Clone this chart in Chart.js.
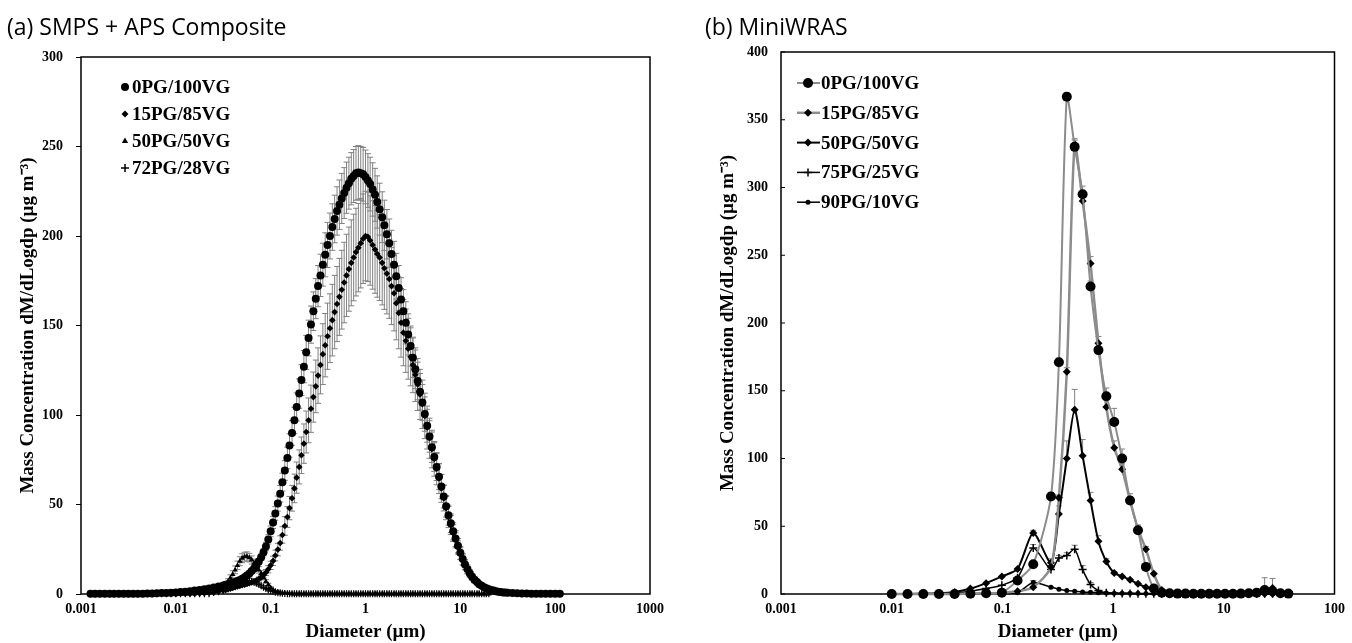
<!DOCTYPE html>
<html>
<head>
<meta charset="utf-8">
<script src="https://cdn.jsdelivr.net/npm/chart.js@4.4.1/dist/chart.umd.min.js"></script>
<style>
  html, body { margin: 0; padding: 0; background: #fff; }
  #page { position: relative; width: 1352px; height: 643px; overflow: hidden; }
  .box { position: absolute; top: 0; height: 643px; }
  .ttl { position: absolute; top: 10px; font-family: "Open Sans", sans-serif; font-size: 23px; color: #000; white-space: nowrap; }
</style>
</head>
<body>
<div id="page">
  <div class="box" style="left:0;width:680px"><canvas id="plotA" width="680" height="643"></canvas></div>
  <div class="box" style="left:680px;width:672px"><canvas id="plotB" width="672" height="643"></canvas></div>
  <div class="ttl" style="left:7px">(a) SMPS + APS Composite</div>
  <div class="ttl" style="left:705px">(b) MiniWRAS</div>
</div>
<script>
const serif = "'Liberation Serif', 'Times New Roman', serif";

// ---- (a) SMPS + APS composite : diameters (µm) and dM/dLogdp (µg m-3)
const diamA = [
  0.00126, 0.00141, 0.00158, 0.00178, 0.00200, 0.00224, 0.00251, 0.00282, 0.00316, 0.00355,
  0.00398, 0.00447, 0.00501, 0.00562, 0.00631, 0.00708, 0.00794, 0.00891, 0.0100, 0.0112,
  0.0126, 0.0141, 0.0158, 0.0178, 0.0200, 0.0224, 0.0251, 0.0282,
  0.0316, 0.0335, 0.0355, 0.0376, 0.0398, 0.0422, 0.0447, 0.0473, 0.0501, 0.0531,
  0.0562, 0.0596, 0.0631, 0.0668, 0.0708, 0.0750, 0.0794, 0.0841, 0.0891, 0.0944,
  0.100, 0.106, 0.112, 0.119, 0.126, 0.133, 0.141, 0.150, 0.158, 0.168,
  0.178, 0.188, 0.200, 0.211, 0.224, 0.237, 0.251, 0.266, 0.282, 0.299,
  0.316, 0.335, 0.355, 0.376, 0.398, 0.422, 0.447, 0.473, 0.501, 0.531,
  0.562, 0.596, 0.631, 0.668, 0.708, 0.750, 0.794, 0.841, 0.891, 0.944,
  1.00, 1.06, 1.12, 1.19, 1.26, 1.33, 1.41, 1.50, 1.58, 1.68,
  1.78, 1.88, 2.00, 2.11, 2.24, 2.37, 2.51, 2.66, 2.82, 2.99,
  3.16, 3.35, 3.55, 3.76, 3.98, 4.22, 4.47, 4.73, 5.01, 5.31,
  5.62, 5.96, 6.31, 6.68, 7.08, 7.50, 7.94, 8.41, 8.91, 9.44,
  10.0, 10.6, 11.2, 11.9, 12.6, 13.3, 14.1, 15.0, 15.8, 16.8,
  17.8, 18.8, 20.0, 21.1, 22.4, 23.7, 25.1, 26.6, 28.2, 29.9,
  31.6, 35.5, 39.8, 44.7, 50.1, 56.2, 63.1, 70.8, 79.4, 89.1, 100, 112];

const pg0A = [
  0.1, 0.1, 0.1, 0.1, 0.1, 0.1, 0.1, 0.1, 0.2, 0.2,
  0.2, 0.2, 0.3, 0.3, 0.4, 0.5, 0.6, 0.7, 0.9, 1.1,
  1.3, 1.6, 1.9, 2.3, 2.7, 3.1, 3.6, 4.2,
  4.8, 5.1, 5.5, 5.9, 6.3, 6.7, 7.2, 7.8, 8.5, 9.3,
  10.3, 11.5, 12.8, 14.3, 16, 18.1, 20.5, 23.3, 26.5, 30.5,
  35, 40, 45, 50.5, 56, 62.5, 69, 76, 83, 90,
  97, 104.5, 112, 119.5, 127, 135, 143, 150.5, 158, 165,
  172, 178, 184, 189.5, 195, 200, 205, 209.5, 214, 217.5,
  221, 224, 227, 229.5, 232, 233.5, 235, 235.5, 235, 234.5,
  233, 231, 229, 226, 223, 219, 215, 210.5, 206, 201,
  196, 190, 184, 177.5, 171, 164.5, 158, 151.5, 145, 138.5,
  132, 125.5, 119, 113, 107, 100.5, 94, 88, 82, 76.5,
  71, 65.5, 60, 54.5, 49, 44, 39.5, 35, 31, 27,
  23, 19.5, 16.5, 13.8, 11.5, 9.6, 8, 6.7, 5.5, 4.6,
  3.8, 3.2, 2.7, 2.3, 1.9, 1.6, 1.3, 1.1, 0.9, 0.8,
  0.7, 0.5, 0.4, 0.3, 0.3, 0.2, 0.2, 0.2, 0.1, 0.1, 0.1, 0.1];
const pg0AErr = [
  0, 0, 0, 0, 0, 0, 0, 0, 0, 0,
  0, 0, 0, 0, 0, 0, 0, 0, 0, 0,
  0, 0, 0, 0, 0, 0, 0, 0,
  0, 0, 0, 0, 0.5, 0.5, 0.6, 0.6, 0.7, 0.8,
  0.9, 1.0, 1.1, 1.2, 1.4, 1.6, 1.8, 2.0, 2.3, 2.6,
  3.0, 3.4, 3.8, 4.2, 4.6, 5.0, 5.5, 6.0, 6.5, 6.9,
  7.3, 7.8, 8.2, 8.6, 9.0, 9.5, 10, 10.4, 10.8, 11.2,
  11.5, 11.8, 12, 12.3, 12.6, 12.8, 13, 13.3, 13.5, 13.8,
  14, 14.2, 14.3, 14.5, 14.6, 14.8, 15, 15, 15, 15,
  15, 15, 15, 14.9, 14.8, 14.6, 14.5, 14.2, 14, 13.8,
  13.5, 13.2, 13, 12.8, 12.5, 12.2, 12, 11.8, 11.5, 11.2,
  11, 10.8, 10.5, 10.2, 10, 9.6, 9.2, 8.8, 8.5, 8,
  7.6, 7.2, 6.8, 6.4, 6, 5.6, 5.2, 4.8, 4.4, 4,
  3.6, 3.2, 2.8, 2.4, 2.1, 1.8, 1.6, 1.3, 1.1, 0.9,
  0.8, 0.7, 0.6, 0, 0, 0, 0, 0, 0, 0,
  0, 0, 0, 0, 0, 0, 0, 0, 0, 0, 0, 0];

const pg15A = [
  0.1, 0.1, 0.1, 0.1, 0.1, 0.1, 0.1, 0.1, 0.1, 0.1,
  0.1, 0.1, 0.1, 0.1, 0.1, 0.1, 0.1, 0.1, 0.1, 0.1,
  0.1, 0.1, 0.2, 0.3, 0.5, 0.7, 1.0, 1.4,
  2.0, 2.3, 2.7, 3.0, 3.4, 3.8, 4.2, 4.5, 4.9, 5.2,
  5.6, 6.0, 6.4, 7.0, 7.6, 8.4, 9.3, 10.5, 12, 13.8,
  16, 18.5, 21.5, 24.8, 28.5, 33, 38, 43, 48, 53.5,
  59, 65, 71, 77.5, 84, 90.5, 97, 103.5, 110, 116,
  122, 128, 134, 139, 144, 148.5, 153, 157.5, 162, 166,
  170, 174, 178, 181.5, 185, 188, 191, 193.5, 196, 198.5,
  200, 199.5, 197.5, 195, 192.5, 190, 188, 185, 182, 179,
  176, 172, 168, 162.5, 157, 151.5, 146, 141.5, 137, 132.5,
  128, 122.5, 117, 111.5, 106, 99.5, 93, 87, 81, 75.5,
  70, 64.5, 59, 53.5, 48, 43, 38.5, 34, 30, 26,
  22.5, 19, 16, 13.3, 11, 9.2, 7.5, 6.3, 5.2, 4.4,
  3.6, 3.0, 2.5, 2.1, 1.8, 1.5, 1.2, 1.0, 0.8, 0.7,
  0.6, 0.4, 0.3, 0.3, 0.2, 0.2, 0.2, 0.1, 0.1, 0.1, 0.1, 0.1];
const pg15AErr = [
  0, 0, 0, 0, 0, 0, 0, 0, 0, 0,
  0, 0, 0, 0, 0, 0, 0, 0, 0, 0,
  0, 0, 0, 0, 0, 0, 0, 0,
  0, 0, 0, 0, 0.3, 0.3, 0.4, 0.4, 0.5, 0.5,
  0.6, 0.7, 0.8, 0.9, 1.0, 1.1, 1.3, 1.5, 1.7, 2.0,
  2.3, 2.6, 3.0, 3.5, 4.0, 4.6, 5.2, 5.8, 6.5, 7.2,
  8, 8.7, 9.5, 10.2, 11, 11.7, 12.5, 13.2, 14, 14.7,
  15.5, 16.2, 17, 17.7, 18.5, 19.2, 20, 20.5, 21, 21.5,
  22, 22.5, 23, 23.5, 24, 24.2, 24.5, 24.7, 25, 25,
  25, 25, 25, 24.7, 24.5, 24.2, 24, 23.5, 23, 22.5,
  22, 21.5, 21, 20.5, 20, 19.2, 18.5, 17.7, 17, 16.2,
  15.5, 15, 14.5, 14, 13.5, 12.7, 12, 11.2, 10.5, 9.7,
  9, 8.4, 7.8, 7.1, 6.5, 5.9, 5.3, 4.7, 4.2, 3.7,
  3.3, 2.9, 2.5, 2.1, 1.8, 1.5, 1.3, 1.1, 0.9, 0.7,
  0.6, 0.5, 0.4, 0, 0, 0, 0, 0, 0, 0,
  0, 0, 0, 0, 0, 0, 0, 0, 0, 0, 0, 0];

const pg50A = [
  0.1, 0.1, 0.1, 0.1, 0.1, 0.1, 0.1, 0.1, 0.1, 0.1,
  0.1, 0.1, 0.1, 0.1, 0.1, 0.1, 0.1, 0.1, 0.1, 0.1,
  0.1, 0.1, 0.2, 0.3, 0.5, 0.9, 1.5, 2.6,
  4.3, 5.6, 7, 9, 11, 13.5, 16, 18.3, 20, 20.8,
  21, 20.3, 19, 17.3, 15.5, 13.5, 11.5, 9.2, 7, 5.2,
  3.5, 2.4, 1.6, 1.1, 0.8, 0.6, 0.4, 0.3, 0.3, 0.1,
  0.1, 0.1, 0.1, 0.1, 0.1, 0.1, 0.1, 0.1, 0.1, 0.1,
  0.1, 0.1, 0.1, 0.1, 0.1, 0.1, 0.1, 0.1, 0.1, 0.1,
  0.1, 0.1, 0.1, 0.1, 0.1, 0.1, 0.1, 0.1, 0.1, 0.1,
  0.1, 0.1, 0.1, 0.1, 0.1, 0.1, 0.1, 0.1, 0.1, 0.1,
  0.1, 0.1, 0.1, 0.1, 0.1, 0.1, 0.1, 0.1, 0.1, 0.1,
  0.1, 0.1, 0.1, 0.1, 0.1, 0.1, 0.1, 0.1, 0.1, 0.1,
  0.1, 0.1, 0.1, 0.1, 0.1, 0.1, 0.1, 0.1, 0.1, 0.1,
  0.1, 0.1, 0.1, 0.1, 0.1, 0.1, 0.1, 0.1, 0.1, 0.1,
  0.1, 0.1, 0.1, null, null, null, null, null, null, null,
  null, null, null, null, null, null, null, null, null, null, null, null];
const pg50AErr = [
  0, 0, 0, 0, 0, 0, 0, 0, 0, 0,
  0, 0, 0, 0, 0, 0, 0, 0, 0, 0,
  0, 0, 0, 0, 0, 0, 0, 0,
  0.8, 1.0, 1.5, 1.7, 2.0, 2.2, 2.4, 2.5, 2.5, 2.5,
  2.5, 2.4, 2.3, 2.2, 2.0, 1.8, 1.5, 1.2, 1.0, 0.8,
  0.5, 0, 0, 0, 0, 0, 0, 0, 0, 0,
  0, 0, 0, 0, 0, 0, 0, 0, 0, 0,
  0, 0, 0, 0, 0, 0, 0, 0, 0, 0,
  0, 0, 0, 0, 0, 0, 0, 0, 0, 0,
  0, 0, 0, 0, 0, 0, 0, 0, 0, 0,
  0, 0, 0, 0, 0, 0, 0, 0, 0, 0,
  0, 0, 0, 0, 0, 0, 0, 0, 0, 0,
  0, 0, 0, 0, 0, 0, 0, 0, 0, 0,
  0, 0, 0, 0, 0, 0, 0, 0, 0, 0,
  0, 0, 0, 0, 0, 0, 0, 0, 0, 0,
  0, 0, 0, 0, 0, 0, 0, 0, 0, 0, 0, 0];

const pg72A = [
  0.1, 0.1, 0.1, 0.1, 0.1, 0.1, 0.1, 0.1, 0.1, 0.1,
  0.1, 0.1, 0.1, 0.1, 0.1, 0.1, 0.1, 0.1, 0.1, 0.1,
  0.1, 0.1, 0.1, 0.1, 0.1, 0.1, 0.8, 1.3,
  2.0, 2.5, 3.0, 3.6, 4.2, 4.9, 5.5, 6.1, 6.6, 7.0,
  7.3, 7.3, 7.1, 6.7, 6.1, 5.4, 4.6, 3.8, 3.1, 2.4,
  1.8, 1.4, 1.0, 0.7, 0.5, 0.4, 0.3, 0.2, 0.2, 0.1,
  0.1, 0.1, 0.1, 0.1, 0.1, 0.1, 0.1, 0.1, 0.1, 0.1,
  0.1, 0.1, 0.1, 0.1, 0.1, 0.1, 0.1, 0.1, 0.1, 0.1,
  0.1, 0.1, 0.1, 0.1, 0.1, 0.1, 0.1, 0.1, 0.1, 0.1,
  0.1, 0.1, 0.1, 0.1, 0.1, 0.1, 0.1, 0.1, 0.1, 0.1,
  0.1, 0.1, 0.1, 0.1, 0.1, 0.1, 0.1, 0.1, 0.1, 0.1,
  0.1, 0.1, 0.1, 0.1, 0.1, 0.1, 0.1, 0.1, 0.1, 0.1,
  0.1, 0.1, 0.1, 0.1, 0.1, 0.1, 0.1, 0.1, 0.1, 0.1,
  0.1, 0.1, 0.1, 0.1, 0.1, 0.1, 0.1, 0.1, 0.1, 0.1,
  0.1, 0.1, 0.1, null, null, null, null, null, null, null,
  null, null, null, null, null, null, null, null, null, null, null, null];
const pg72AErr = [
  0, 0, 0, 0, 0, 0, 0, 0, 0, 0,
  0, 0, 0, 0, 0, 0, 0, 0, 0, 0,
  0, 0, 0, 0, 0, 0, 0, 0,
  0.4, 0.5, 0.6, 0.8, 1.0, 1.1, 1.2, 1.3, 1.4, 1.5,
  1.5, 1.5, 1.5, 1.4, 1.3, 1.2, 1.0, 0.8, 0.6, 0.5,
  0.4, 0, 0, 0, 0, 0, 0, 0, 0, 0,
  0, 0, 0, 0, 0, 0, 0, 0, 0, 0,
  0, 0, 0, 0, 0, 0, 0, 0, 0, 0,
  0, 0, 0, 0, 0, 0, 0, 0, 0, 0,
  0, 0, 0, 0, 0, 0, 0, 0, 0, 0,
  0, 0, 0, 0, 0, 0, 0, 0, 0, 0,
  0, 0, 0, 0, 0, 0, 0, 0, 0, 0,
  0, 0, 0, 0, 0, 0, 0, 0, 0, 0,
  0, 0, 0, 0, 0, 0, 0, 0, 0, 0,
  0, 0, 0, 0, 0, 0, 0, 0, 0, 0,
  0, 0, 0, 0, 0, 0, 0, 0, 0, 0, 0, 0];

const decadesA = [0.001, 0.01, 0.1, 1, 10, 100, 1000];

// ---- (b) MiniWRAS : channel diameters (µm) and dM/dLogdp
const diamB = [0.010, 0.0139, 0.0193, 0.0267, 0.0370, 0.0514, 0.0713, 0.0989, 0.137, 0.190,
  0.2746, 0.3239, 0.3818, 0.4495, 0.5302, 0.6254, 0.737, 0.8686, 1.024, 1.207,
  1.423, 1.678, 1.978, 2.332, 2.750, 3.242, 3.822, 4.505, 5.312, 6.264,
  7.385, 8.706, 10.26, 12.10, 14.27, 16.82, 19.83, 23.38, 27.56, 32.49, 38.31];

const pg0B = [0, 0, 0, 0, 0, 0.2, 0.5, 1, 10, 22,
  72, 171, 367, 330, 295, 227, 180, 146, 127, 100,
  69, 47, 20, 4, 1, 0.5, 0.3, 0.3, 0.2, 0.2,
  0.2, 0.2, 0.2, 0.2, 0.3, 0.5, 1, 3, 2, 0.5, 0.3];
const pg0BErr = [0, 0, 0, 0, 0, 0, 0, 0, 1, 2,
  3, 3, 3, 5, 6, 4, 5, 6, 10, 7,
  5, 3, 2, 1, 0, 0, 0, 0, 0, 0,
  0, 0, 0, 0, 0, 0, 0, 9, 0, 0, 0];

const pg15B = [0, 0, 0, 0, 0, 0.3, 0.5, 1, 2, 5,
  20, 71, 164, 332, 290, 244, 185, 138, 108, 92,
  69, 48, 33, 15, 3, 0.5, 0.3, 0.3, 0.2, 0.2,
  0.2, 0.2, 0.2, 0.3, 0.3, 0.5, 1, 2, 4.5, 0.5, 0.3];
const pg15BErr = [0, 0, 0, 0, 0, 0, 0, 0, 0, 0,
  1, 2, 3, 4, 4, 5, 5, 5, 5, 4,
  3, 3, 2, 1, 0, 0, 0, 0, 0, 0,
  0, 0, 0, 0, 0, 0, 0, 0, 7, 0, 0];

const pg50B = [0, 0, 0.3, 0.5, 1.5, 4, 8, 13, 18.5, 45,
  23, 59, 100, 136, 102, 69, 39, 24, 15.5, 13,
  10.5, 7.5, 5, 2.5, 1, 0.5, 0.3, 0.2, 0.2, 0.2,
  0.2, 0.2, 0.2, 0.2, 0.2, 0.2, 0.2, 0.2, 0.2, 0.2, 0.2];
const pg50BErr = [0, 0, 0, 0, 0, 0, 0, 0, 0, 2,
  3, 6, 13, 15, 12, 6, 4, 2, 1, 0,
  0, 0, 0, 0, 0, 0, 0, 0, 0, 0,
  0, 0, 0, 0, 0, 0, 0, 0, 0, 0, 0];

const pg75B = [0, 0, 0, 0.3, 0.8, 2, 4, 6.5, 12, 34,
  18, 26.5, 28.5, 33, 18, 7, 2.5, 1, 0.5, 0.3,
  0.3, 0.2, 0.2, 0.2, 0.2, 0.2, 0.2, 0.2, 0.2, 0.2,
  0.2, 0.2, 0.2, 0.2, 0.2, 0.2, 0.2, 0.2, 0.2, 0.2, 0.2];
const pg75BErr = [0, 0, 0, 0, 0, 0, 0, 0, 0, 2.5,
  2, 2, 2, 3, 3, 1.5, 0, 0, 0, 0,
  0, 0, 0, 0, 0, 0, 0, 0, 0, 0,
  0, 0, 0, 0, 0, 0, 0, 0, 0, 0, 0];

const pg90B = [0, 0, 0, 0, 0, 0, 0.2, 0.3, 1, 8.5,
  5, 3.5, 2.5, 2, 1.5, 1.2, 1, 0.8, 0.6, 0.5,
  0.5, 0.5, 0.4, 0.4, 0.3, 0.3, 0.3, 0.2, 0.2, 0.2,
  0.2, 0.2, 0.2, 0.2, 0.2, 0.2, 0.2, 0.2, 0.2, 0.2, 0.2];
const pg90BErr = [0, 0, 0, 0, 0, 0, 0, 0, 0, 1.5,
  0.5, 0, 0, 0, 0, 0, 0, 0, 0, 0,
  0, 0, 0, 0, 0, 0, 0, 0, 0, 0,
  0, 0, 0, 0, 0, 0, 0, 0, 0, 0, 0];

const decadesB = [0.001, 0.01, 0.1, 1, 10, 100];

// points with their error attached, missing values dropped
let toPoints = (xs, ys, es) => xs
  .map((x, i) => ({ x: x, y: ys[i], e: es[i] }))
  .filter(p => p.y !== null && p.y !== undefined);

let drawMarker = (ctx, style, x, y, r) => {
  ctx.beginPath();
  if (style === 'cross') {
    ctx.moveTo(x - r, y); ctx.lineTo(x + r, y);
    ctx.moveTo(x, y - r); ctx.lineTo(x, y + r);
    ctx.stroke();
    return;
  }
  if (style === 'rectRot') {
    ctx.moveTo(x, y - r); ctx.lineTo(x + r, y); ctx.lineTo(x, y + r); ctx.lineTo(x - r, y);
  } else if (style === 'triangle') {
    ctx.moveTo(x, y - r); ctx.lineTo(x + r * 0.9, y + r * 0.6); ctx.lineTo(x - r * 0.9, y + r * 0.6);
  } else {
    ctx.arc(x, y, r, 0, Math.PI * 2);
  }
  ctx.closePath();
  ctx.fill();
};

// gray error bars, drawn under the markers
const errorBars = {
  id: 'errorBars',
  beforeDatasetsDraw(chart) {
    const ctx = chart.ctx;
    const yS = chart.scales.y;
    ctx.save();
    ctx.strokeStyle = '#808080';
    ctx.lineWidth = 1;
    chart.data.datasets.forEach((ds, k) => {
      const meta = chart.getDatasetMeta(k);
      meta.data.forEach((el, i) => {
        const p = ds.data[i];
        if (!p.e) return;
        const yTop = yS.getPixelForValue(p.y + p.e);
        const yBot = ds.errUp ? el.y : yS.getPixelForValue(Math.max(p.y - p.e, 0));
        ctx.beginPath();
        ctx.moveTo(el.x, yTop); ctx.lineTo(el.x, yBot);
        ctx.moveTo(el.x - 3, yTop); ctx.lineTo(el.x + 3, yTop);
        if (!ds.errUp) { ctx.moveTo(el.x - 3, yBot); ctx.lineTo(el.x + 3, yBot); }
        ctx.stroke();
      });
    });
    ctx.restore();
  }
};

// box round the plot, optional inward y ticks
const frame = {
  id: 'frame',
  beforeDatasetsDraw(chart, args, opts) {
    const { ctx, chartArea: a } = chart;
    const yS = chart.scales.y;
    ctx.save();
    ctx.strokeStyle = '#000';
    ctx.lineWidth = 1.5;
    ctx.strokeRect(a.left, a.top, a.right - a.left, a.bottom - a.top);
    if (opts.innerTicks) {
      ctx.lineWidth = 1;
      yS.ticks.forEach(t => {
        const py = yS.getPixelForValue(t.value);
        ctx.beginPath(); ctx.moveTo(a.left, py); ctx.lineTo(a.left + opts.innerTicks, py); ctx.stroke();
      });
    }
    ctx.restore();
  }
};

// legend list inside the plot
const boxLegend = {
  id: 'boxLegend',
  afterDraw(chart, args, opts) {
    const ctx = chart.ctx;
    ctx.save();
    ctx.font = 'bold 19px ' + serif;
    ctx.textBaseline = 'middle';
    chart.data.datasets.forEach((ds, k) => {
      const y = opts.y + k * opts.dy;
      if (opts.lineFrom) {
        ctx.strokeStyle = ds.borderColor;
        ctx.lineWidth = ds.borderWidth;
        ctx.beginPath(); ctx.moveTo(opts.lineFrom, y); ctx.lineTo(opts.lineTo, y); ctx.stroke();
      }
      ctx.fillStyle = '#000';
      ctx.strokeStyle = '#000';
      ctx.lineWidth = 1.5;
      drawMarker(ctx, ds.pointStyle, opts.markX, y, ds.legendRadius || ds.pointRadius);
      ctx.fillText(ds.label, opts.textX, y + 1);
    });
    ctx.restore();
  }
};

let tickFont = { family: serif, size: 14, weight: 'bold' };
let titleFont = { family: serif, size: 19, weight: 'bold' };

let makeScales = (o) => ({
  x: {
    type: 'logarithmic', min: o.xmin, max: o.xmax,
    afterBuildTicks: s => { s.ticks = o.decades.map(v => ({ value: v })); },
    ticks: { color: '#000', font: tickFont, padding: 7, autoSkip: false, maxRotation: 0, callback: v => String(v) },
    grid: { display: false, drawTicks: false },
    border: { display: false },
    title: { display: true, text: 'Diameter (µm)', color: '#000', font: titleFont, padding: { top: 0, bottom: 0 } },
    afterFit: s => { s.height = 49; }
  },
  y: {
    min: 0, max: o.ymax,
    ticks: { stepSize: 50, color: '#000', font: tickFont, padding: o.tickPad },
    grid: { display: true, drawOnChartArea: false, drawTicks: o.outTicks, tickLength: 5, color: '#000' },
    border: { display: false },
    title: { display: true, text: 'Mass Concentration dM/dLogdp (µg m⁻³)', color: '#000', font: titleFont, padding: { top: o.titlePad } },
    afterFit: s => { s.width = o.yWidth; }
  }
});

let dotSet = (label, vals, errs, style, radius, legendRadius) => ({
  label: label, data: toPoints(diamA, vals, errs), showLine: false,
  pointStyle: style, pointRadius: radius, legendRadius: legendRadius,
  pointBackgroundColor: '#000', pointBorderColor: '#000',
  pointBorderWidth: style === 'cross' ? 1.2 : 0, clip: false
});

new Chart(document.getElementById('plotA'), {
  type: 'line',
  data: {
    datasets: [
      dotSet('0PG/100VG', pg0A, pg0AErr, 'circle', 4, 4),
      dotSet('15PG/85VG', pg15A, pg15AErr, 'rectRot', 3.3, 3.5),
      dotSet('50PG/50VG', pg50A, pg50AErr, 'triangle', 3.2, 3.5),
      dotSet('72PG/28VG', pg72A, pg72AErr, 'cross', 3.5, 4)
    ]
  },
  options: {
    responsive: false, animation: false, events: [],
    layout: { padding: { top: 57, right: 30, bottom: 0, left: 0 } },
    plugins: {
      legend: { display: false }, tooltip: { enabled: false },
      boxLegend: { y: 87, dy: 27, markX: 125, textX: 132 },
      frame: {}
    },
    scales: makeScales({ xmin: 0.001, xmax: 1000, decades: decadesA, ymax: 300, tickPad: 13, outTicks: true, titlePad: 17, yWidth: 81 })
  },
  plugins: [errorBars, frame, boxLegend]
});

let lineSet = (label, vals, errs, color, width, style, radius) => ({
  label: label, data: toPoints(diamB, vals, errs), errUp: true,
  borderColor: color, borderWidth: width, tension: 0.25,
  pointStyle: style, pointRadius: radius, pointBackgroundColor: '#000', pointBorderColor: '#000',
  pointBorderWidth: style === 'cross' ? 1.5 : 0, clip: false
});

new Chart(document.getElementById('plotB'), {
  type: 'line',
  data: {
    datasets: [
      lineSet('0PG/100VG', pg0B, pg0BErr, '#8c8c8c', 2, 'circle', 5),
      lineSet('15PG/85VG', pg15B, pg15BErr, '#8c8c8c', 2.5, 'rectRot', 4),
      lineSet('50PG/50VG', pg50B, pg50BErr, '#000', 2, 'rectRot', 4),
      lineSet('75PG/25VG', pg75B, pg75BErr, '#000', 1.5, 'cross', 4),
      lineSet('90PG/10VG', pg90B, pg90BErr, '#000', 1.5, 'circle', 2.5)
    ]
  },
  options: {
    responsive: false, animation: false, events: [],
    layout: { padding: { top: 52, right: 16, bottom: 0, left: 0 } },
    plugins: {
      legend: { display: false }, tooltip: { enabled: false },
      boxLegend: { y: 83, dy: 29.8, markX: 128, textX: 141, lineFrom: 117, lineTo: 140 },
      frame: { innerTicks: 4 }
    },
    scales: makeScales({ xmin: 0.001, xmax: 100, decades: decadesB, ymax: 400, tickPad: 13, outTicks: false, titlePad: 37, yWidth: 101 })
  },
  plugins: [errorBars, frame, boxLegend]
});
</script>
</body>
</html>
